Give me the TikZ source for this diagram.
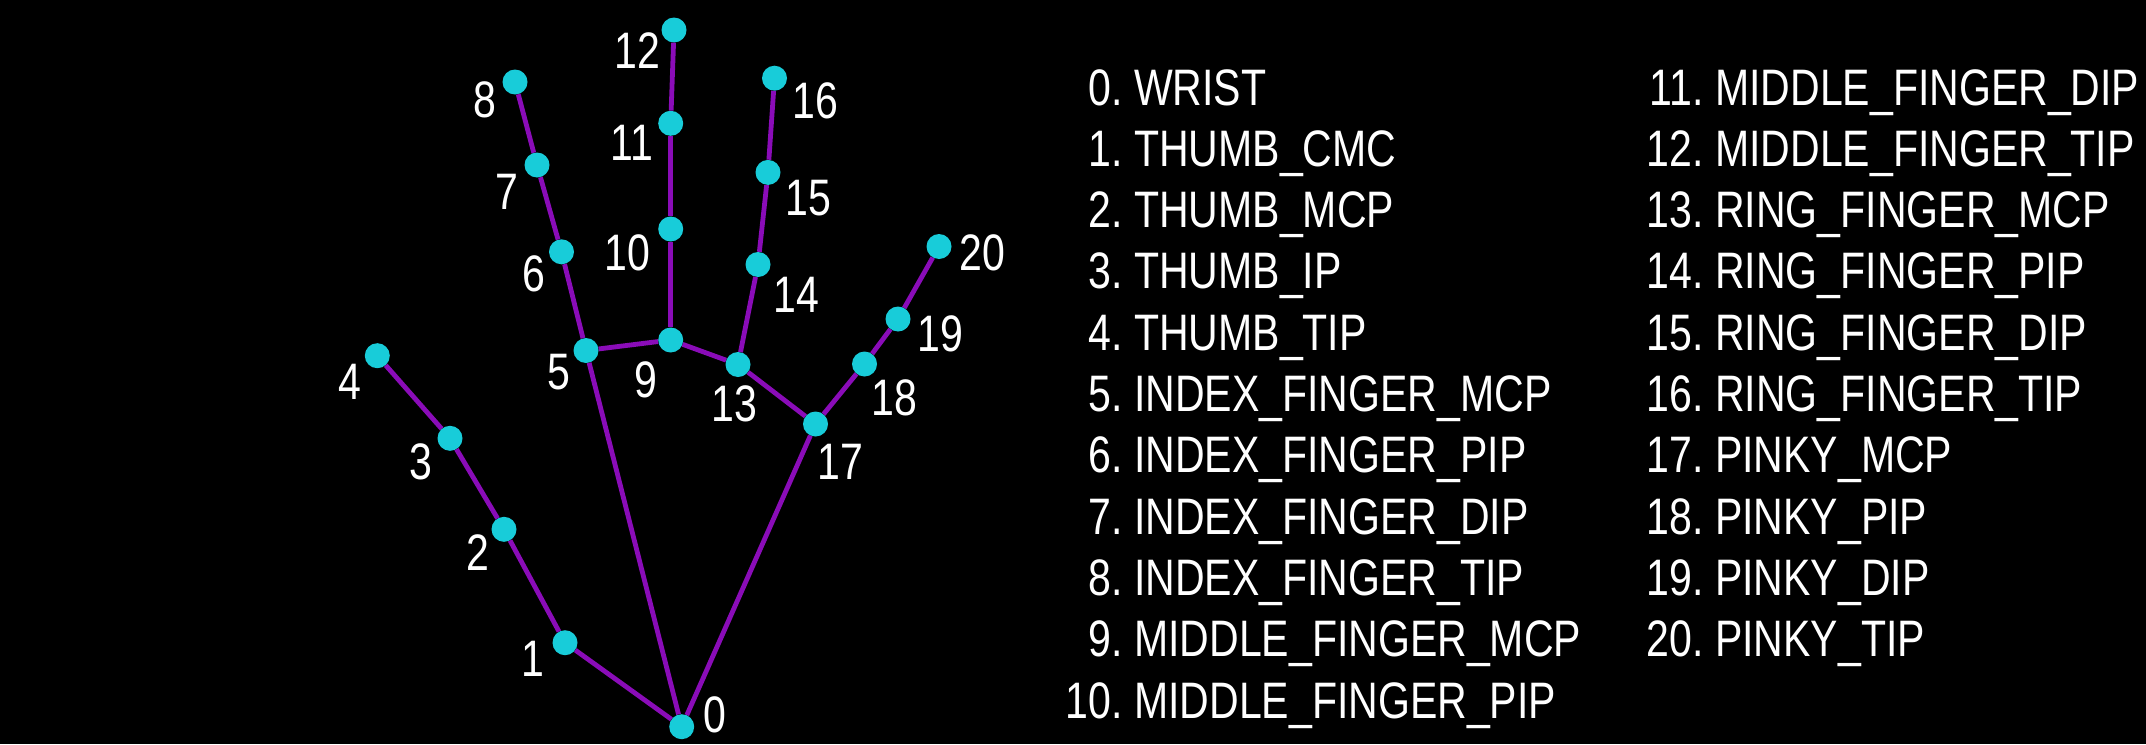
\documentclass[tikz,border=0pt]{standalone}
\usepackage{fontspec}
\setmainfont[FakeStretch=0.8]{Liberation Sans}
\definecolor{dotcyan}{RGB}{24,204,217}
\definecolor{bonepurple}{RGB}{138,12,184}
\begin{document}
\begin{tikzpicture}[x=1pt,y=-1pt,
  joint/.style={circle,fill=dotcyan,draw=none,minimum size=25pt,inner sep=0pt},
  bone/.style={draw=bonepurple,line width=4.8pt},
  lbl/.style={text=white,inner sep=0pt,font=\fontsize{51.3}{61}\selectfont},
  item/.style={text=white,inner sep=0pt,anchor=base west,font=\fontsize{51.3}{61}\selectfont}]
\fill[black] (0,0) rectangle (2146,744);
\useasboundingbox (0,0) rectangle (2146,744);
% joints
\foreach \i/\x/\y in {0/681.7/726.7, 1/565/642.7, 2/504/529.3, 3/450/438.3, 4/377.3/355.7,
  5/586/350.5, 6/561.5/251.8, 7/537/165, 8/515/82,
  9/670.7/340, 10/670.7/229, 11/670.7/123.3, 12/674/30,
  13/738/364.5, 14/758/264.5, 15/768/172.4, 16/774.5/78.2,
  17/815.5/424, 18/864.5/364, 19/898/319, 20/939/246.5}
  \node[joint] (j\i) at (\x,\y) {};
% bones
\foreach \a/\b in {0/1,1/2,2/3,3/4,0/5,5/6,6/7,7/8,5/9,9/10,10/11,11/12,
  9/13,13/14,14/15,15/16,13/17,0/17,17/18,18/19,19/20}
  \draw[bone] (j\a) -- (j\b);
% labels
\foreach \i/\x/\y in {0/714.5/714.5, 1/533/658.5, 2/478.3/552.5, 3/421/462, 4/350/382,
  5/559/372, 6/534/274, 7/506.5/192, 8/485/99.5,
  9/645.5/380, 10/627.5/252.5, 11/632/143.3, 12/637.7/51,
  13/734/404, 14/796.5/295, 15/808.4/198.3, 16/815.5/100.5,
  17/840.5/461.5, 18/894.7/397.7, 19/940/334.3, 20/982.5/253}
  \node[lbl] (l\i) at (\x,\y) {\i};
% legend, left column
\foreach \k/\t in {0/WRIST, 1/THUMB\_CMC, 2/THUMB\_MCP, 3/THUMB\_IP, 4/THUMB\_TIP,
  5/INDEX\_FINGER\_MCP, 6/INDEX\_FINGER\_PIP, 7/INDEX\_FINGER\_DIP, 8/INDEX\_FINGER\_TIP,
  9/MIDDLE\_FINGER\_MCP, 10/MIDDLE\_FINGER\_PIP}
  \node[item] (n\k) at (1134,{105+61.33*\k}) {\llap{\k.\ }\t};
% legend, right column
\foreach \k/\t in {11/MIDDLE\_FINGER\_DIP, 12/MIDDLE\_FINGER\_TIP, 13/RING\_FINGER\_MCP,
  14/RING\_FINGER\_PIP, 15/RING\_FINGER\_DIP, 16/RING\_FINGER\_TIP, 17/PINKY\_MCP,
  18/PINKY\_PIP, 19/PINKY\_DIP, 20/PINKY\_TIP}
  \node[item] (n\k) at (1715,{105+61.33*(\k-11)}) {\llap{\k.\ }\t};
\end{tikzpicture}
\end{document}
